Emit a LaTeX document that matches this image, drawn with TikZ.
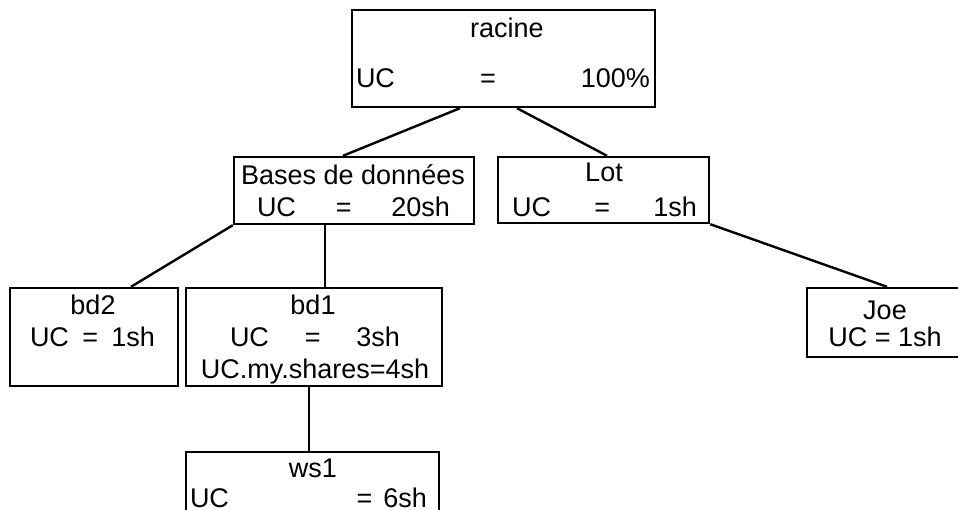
\documentclass[tikz,border=0pt]{standalone}
\usepackage{fontspec}
\setmainfont{Liberation Sans}
\tikzset{
  boite/.style={draw,line width=2.4pt,inner sep=0pt},
  texte/.style={inner sep=0pt,anchor=base},
  lien/.style={line width=2.4pt}
}
\begin{document}
\begin{tikzpicture}[x=1pt,y=-1pt,font=\fontsize{27}{32}\selectfont]
  \useasboundingbox (0,0) rectangle (958,510);
  \clip (0,0) rectangle (958,510);
  % boites
  \node[boite,minimum width=303,minimum height=97] (racine) at (503.5,58.5) {};
  \node[boite,minimum width=240,minimum height=67] (bases) at (354,190.5) {};
  \node[boite,minimum width=211,minimum height=66] (lot) at (603.5,190) {};
  \node[boite,minimum width=168,minimum height=98] (bd2) at (94,337) {};
  \node[boite,minimum width=256,minimum height=98] (bd1) at (314,337) {};
  \node[boite,minimum width=253,minimum height=80] (ws1) at (312.5,492) {};
  \node[boite,minimum width=168,minimum height=69] (joe) at (891,322.5) {};
  % textes
  \node[texte] (racine-nom) at (507,38) {racine};
  \node[texte] (racine-uc) at (503,88) {\makebox[294pt]{UC\hfill=\hfill100\%}};
  \node[texte] (bases-nom) at (353,185) {Bases de données};
  \node[texte] (bases-uc) at (353.5,217) {\makebox[193pt]{UC\hfill=\hfill20sh}};
  \node[texte] (lot-nom) at (604,182) {Lot};
  \node[texte] (lot-uc) at (604.5,217) {\makebox[185pt]{UC\hfill=\hfill1sh}};
  \node[texte] (bd2-nom) at (93,315) {bd2};
  \node[texte] (bd2-uc) at (92.5,347) {\makebox[125pt]{UC\hfill=\hfill1sh}};
  \node[texte] (bd1-nom) at (313,315) {bd1};
  \node[texte] (bd1-uc) at (315,347) {\makebox[170pt]{UC\hfill=\hfill3sh}};
  \node[texte] (bd1-parts) at (315,378) {UC.my.shares=4sh};
  \node[texte] (ws1-nom) at (313,477) {ws1};
  \node[texte] (ws1-uc) at (308.5,507) {\makebox[237pt]{UC\hfill=\hspace{11pt}6sh}};
  \node[texte] (joe-nom) at (885,320) {Joe};
  \node[texte] (joe-uc) at (885,347) {UC = 1sh};
  % liens
  \draw[lien] ([xshift=-43.5pt]racine.south) -- ([xshift=-11pt]bases.north);
  \draw[lien] ([xshift=13.5pt]racine.south) -- ([xshift=3.5pt]lot.north);
  \draw[lien] (bases.south west) -- ([xshift=37pt]bd2.north);
  \draw[lien] ([xshift=-29pt]bases.south) -- ([xshift=11pt]bd1.north);
  \draw[lien] ([xshift=-5pt]bd1.south) -- ([xshift=-3.5pt]ws1.north);
  \draw[lien] (lot.south east) -- ([xshift=-4pt]joe.north);
\end{tikzpicture}
\end{document}
